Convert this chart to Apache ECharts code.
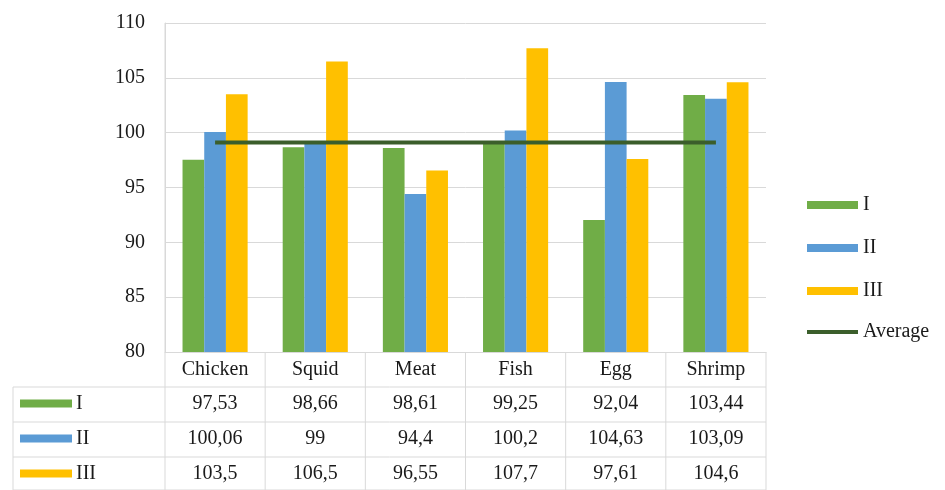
<!DOCTYPE html>
<html>
<head>
<meta charset="utf-8">
<script src="https://cdn.jsdelivr.net/npm/echarts@6/dist/echarts.min.js"></script>
<style>html,body{margin:0;padding:0;background:#fff}#c{width:945px;height:490px}</style>
</head>
<body>
<div id="c"></div>
<script>
const categories = ['Chicken', 'Squid', 'Meat', 'Fish', 'Egg', 'Shrimp'];
const seriesNames = ['I', 'II', 'III'];
const valuesI = [97.53, 98.66, 98.61, 99.25, 92.04, 103.44];
const valuesII = [100.06, 99, 94.4, 100.2, 104.63, 103.09];
const valuesIII = [103.5, 106.5, 96.55, 107.7, 97.61, 104.6];
const averageValues = [99.1, 99.1, 99.1, 99.1, 99.1, 99.1];
const yTicks = [80, 85, 90, 95, 100, 105, 110];

const colors = ['#70AD47', '#5B9BD5', '#FFC000'];
const avgColor = '#3B5E2B';
const FONT = '"Liberation Serif", "Times New Roman", serif';
const FS = 20;
const txtCol = '#1a1a1a';
const gridCol = '#d9d9d9';
const allValues = [valuesI, valuesII, valuesIII];

const chart = echarts.init(document.getElementById('c'), null, {renderer: 'canvas'});
const option = {
  animation: false,
  textStyle: {fontFamily: FONT},
  grid: {left: 165, right: 179, top: 23, bottom: 138, containLabel: false},
  legend: [{
    orient: 'vertical', left: 807, top: 195, padding: 0, itemWidth: 51, itemHeight: 8, itemGap: 23,
    textStyle: {fontFamily: FONT, fontSize: FS, color: txtCol},
    data: [{name: 'I', icon: 'rect'}, {name: 'II', icon: 'rect'}, {name: 'III', icon: 'rect'}]
  }, {
    orient: 'vertical', left: 807, top: 322, padding: 0, itemWidth: 51, itemHeight: 4,
    textStyle: {fontFamily: FONT, fontSize: FS, color: txtCol},
    data: [{name: 'Average', icon: 'rect'}]
  }],
  xAxis: {
    type: 'category', data: categories,
    axisLine: {show: true, lineStyle: {color: gridCol}},
    axisTick: {show: false},
    axisLabel: {show: true, fontFamily: FONT, fontSize: FS, color: txtCol, margin: 8}
  },
  yAxis: {
    type: 'value', min: yTicks[0], max: yTicks[yTicks.length - 1], interval: 5,
    axisLine: {show: true, lineStyle: {color: gridCol}},
    axisTick: {show: false},
    splitLine: {lineStyle: {color: gridCol}},
    axisLabel: {fontFamily: FONT, fontSize: FS, color: txtCol, margin: 20}
  },
  series: seriesNames.map((n, i) => ({
    name: n, type: 'bar', data: allValues[i], barGap: '0%', barCategoryGap: '35%',
    itemStyle: {color: colors[i]}
  })).concat([{
    name: 'Average', type: 'line', data: averageValues, symbol: 'none', showSymbol: false,
    lineStyle: {color: avgColor, width: 4}, itemStyle: {color: avgColor}, z: 5
  }])
};
chart.setOption(option);

// Data table built from the same arrays, placed via the chart's axes
const x0 = chart.convertToPixel({xAxisIndex: 0}, 0);
const x1 = chart.convertToPixel({xAxisIndex: 0}, 1);
const bw = x1 - x0;
const axisY = chart.convertToPixel({yAxisIndex: 0}, yTicks[0]);
const topY = chart.convertToPixel({yAxisIndex: 0}, yTicks[yTicks.length - 1]);
const rowH = 35;
const leftX = 13;
const plotL = x0 - bw / 2;
const plotR = x0 + bw * (categories.length - 0.5);
const bottomY = axisY + rowH * 4 - 2;
const g = [];
const line = (xa, ya, xb, yb) => g.push({type: 'line', shape: {x1: xa, y1: ya, x2: xb, y2: yb}, style: {stroke: gridCol, lineWidth: 1}, silent: true});
for (let r = 1; r <= 3; r++) line(leftX, axisY + rowH * r, plotR, axisY + rowH * r);
line(leftX, bottomY, plotR, bottomY);
line(leftX, axisY + rowH, leftX, bottomY);
for (let c = 1; c <= categories.length; c++) {
  const xx = plotL + bw * c;
  line(xx, axisY, xx, bottomY);
}
line(plotL, topY, plotL, bottomY);
const fmt = v => String(v).replace('.', ',');
seriesNames.forEach((n, r) => {
  const cy = axisY + rowH * (r + 1) + rowH / 2 - 1;
  g.push({type: 'rect', shape: {x: 20, y: cy - 4, width: 52, height: 8}, style: {fill: colors[r]}, silent: true});
  g.push({type: 'text', x: 76, y: cy, style: {text: n, font: FS + 'px ' + FONT, fill: txtCol, textVerticalAlign: 'middle', textAlign: 'left'}, silent: true});
  allValues[r].forEach((v, c) => {
    const cx = chart.convertToPixel({xAxisIndex: 0}, c);
    g.push({type: 'text', x: cx, y: cy, style: {text: fmt(v), font: FS + 'px ' + FONT, fill: txtCol, textAlign: 'center', textVerticalAlign: 'middle'}, silent: true});
  });
});
chart.setOption({graphic: {elements: g}});
</script>
</body>
</html>
